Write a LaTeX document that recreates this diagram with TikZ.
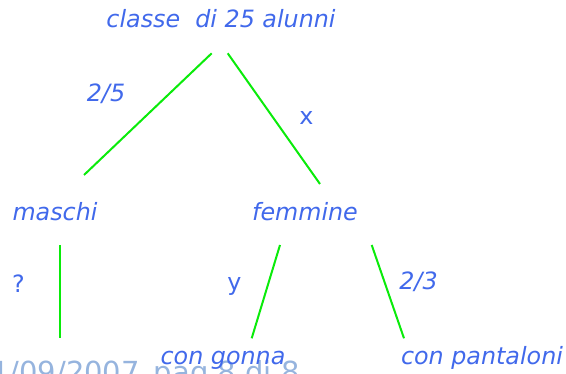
\documentclass[tikz,border=0pt]{standalone}
\usepackage{fontspec}
\setmainfont{DejaVu Sans}
\definecolor{txtblue}{RGB}{65,105,235}
\definecolor{footgray}{RGB}{150,180,222}
\definecolor{lgreen}{RGB}{10,235,10}
\begin{document}
\begin{tikzpicture}[x=1pt,y=-1pt,
  lbl/.style={anchor=base,inner sep=0pt,text=txtblue,font=\fontsize{23.8}{26}\selectfont\itshape},
  uplbl/.style={anchor=base,inner sep=0pt,text=txtblue,font=\fontsize{23.8}{26}\selectfont},
  edge/.style={draw=lgreen,line width=2pt}]
\useasboundingbox (0,0) rectangle (566,374);
% footer (partly cut off)
\node[anchor=base west,inner sep=0pt,text=footgray,font=\fontsize{29}{32}\selectfont] (foot) at (-9,383) {1/09/2007\hspace{14pt}pag 8 di 8};
% nodes
\node[lbl] (root) at (221,27.5) {classe\ \ di 25 alunni};
\node[lbl] (m) at (55,220.5) {maschi};
\node[lbl] (f) at (305,220.5) {femmine};
\node[lbl] (g) at (223,365) {con gonna};
\node[lbl] (p) at (482,365) {con pantaloni};
% edge labels
\node[lbl] (l25) at (106,102) {2/5};
\node[uplbl] (lx) at (306.5,125) {x};
\node[uplbl] (lq) at (18.5,293) {?};
\node[uplbl] (ly) at (234.5,291) {y};
\node[lbl] (l23) at (418.5,290) {2/3};
% connector end points
\coordinate (r1) at (211.7,53.3);
\coordinate (m1) at (84,175);
\coordinate (r2) at (227.7,53.3);
\coordinate (f1) at (320,184);
\coordinate (m2) at (60,245);
\coordinate (q) at (60,338);
\coordinate (f2) at (280,245);
\coordinate (g1) at (251.7,338.3);
\coordinate (f3) at (371.7,245);
\coordinate (p1) at (404,338.3);
% connectors
\draw[edge] (r1) -- (m1);
\draw[edge] (r2) -- (f1);
\draw[edge] (m2) -- (q);
\draw[edge] (f2) -- (g1);
\draw[edge] (f3) -- (p1);
\end{tikzpicture}
\end{document}
